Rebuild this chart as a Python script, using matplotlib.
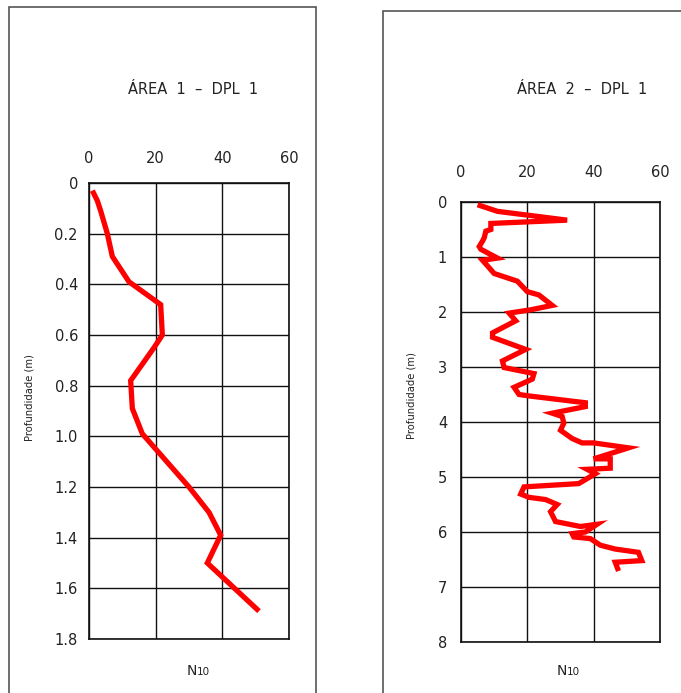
import matplotlib
matplotlib.use("Agg")
import matplotlib.pyplot as plt
from matplotlib.patches import Rectangle

# ---- data ----
area1_depth = [0.03, 0.07, 0.11, 0.20, 0.29, 0.39, 0.48, 0.60, 0.65, 0.78,
               0.89, 0.99, 1.20, 1.30, 1.39, 1.50, 1.69]
area1_n10 = [1, 2.5, 3.5, 5.5, 7, 12, 21.5, 22, 19.5, 12.5,
             13, 16, 30, 36, 39.5, 35.5, 51]

area2_depth = [0.05, 0.17, 0.33, 0.39, 0.50, 0.53, 0.65, 0.71, 0.81, 0.86,
               1.02, 1.06, 1.30, 1.44, 1.63, 1.69, 1.88, 1.96, 2.02, 2.16,
               2.38, 2.46, 2.68, 2.89, 3.01, 3.12, 3.22, 3.37, 3.50, 3.53,
               3.65, 3.72, 3.84, 3.90, 4.02, 4.15, 4.30, 4.38, 4.38, 4.47,
               4.67, 4.67, 4.84, 4.86, 4.94, 5.12, 5.18, 5.31, 5.37, 5.41,
               5.50, 5.63, 5.81, 5.90, 5.86, 6.00, 6.03, 6.09, 6.12, 6.24,
               6.31, 6.37, 6.52, 6.55, 6.71]
area2_n10 = [5, 11, 32, 9, 9, 7.5, 7, 6.5, 5.5, 6,
             11, 6.5, 10, 17, 20, 23.5, 27.5, 21, 14.5, 16.5,
             9.5, 9.5, 19.5, 12.5, 13, 22, 21.5, 16, 17.5, 21,
             37.5, 37.5, 27.5, 30.5, 31, 30, 33.5, 36.5, 40, 50.5,
             40, 45, 45, 38, 40.5, 35.5, 19, 18, 20.5, 25.5,
             29, 27, 28.5, 36, 41, 37.5, 33.5, 34, 39, 42,
             46.5, 53.5, 54.5, 46.5, 47.5]

area1_yticks = [0, 0.2, 0.4, 0.6, 0.8, 1.0, 1.2, 1.4, 1.6, 1.8]
area1_ylabels = ["0", "0.2", "0.4", "0.6", "0.8", "1.0", "1.2", "1.4", "1.6", "1.8"]
area2_yticks = [0, 1, 2, 3, 4, 5, 6, 7, 8]
n10_ticks = [0, 20, 40, 60]

titles = ["ÁREA  1  –  DPL  1", "ÁREA  2  –  DPL  1"]
ylabel = "Profundidade (m)"

W, H = 681, 693
fig = plt.figure(figsize=(W / 100, H / 100), dpi=100)
fig.patch.set_facecolor("white")


def fx(x):
    return x / W


def fy(y):
    return 1 - y / H


# panel frames
for (x0, y0, x1, y1) in [(9, 7, 316, 700), (383, 11, 700, 700)]:
    fig.patches.append(Rectangle((fx(x0), fy(y1)), fx(x1) - fx(x0), fy(y0) - fy(y1),
                                 transform=fig.transFigure, fill=False,
                                 edgecolor="#555555", linewidth=1.2))

font = "DejaVu Sans"
ink = "#222222"


def make_axes(rect_px, depth, n10, ymax, yticks, ylabels, xpad, ypad):
    x0, y0, x1, y1 = rect_px
    ax = fig.add_axes([fx(x0), fy(y1), fx(x1) - fx(x0), fy(y0) - fy(y1)])
    ax.plot(n10, depth, color="#ff0000", linewidth=3.8, solid_joinstyle="miter",
            solid_capstyle="butt", zorder=3)
    ax.set_xlim(0, 60)
    ax.set_ylim(ymax, 0)
    ax.set_xticks(n10_ticks)
    ax.set_yticks(yticks)
    ax.set_yticklabels(ylabels)
    ax.xaxis.tick_top()
    ax.tick_params(axis="both", length=0, labelsize=10.5, colors=ink)
    ax.tick_params(axis="x", pad=xpad)
    ax.tick_params(axis="y", pad=ypad)
    ax.grid(True, color="#111111", linewidth=1.0)
    ax.set_axisbelow(True)
    for s in ax.spines.values():
        s.set_color("#111111")
        s.set_linewidth(1.2)
    for lab in ax.get_xticklabels() + ax.get_yticklabels():
        lab.set_family(font)
    return ax


make_axes((89, 183, 289, 639), area1_depth, area1_n10, 1.8,
          area1_yticks, area1_ylabels, 12, 8)
make_axes((461, 202, 660, 642), area2_depth, area2_n10, 8,
          area2_yticks, [str(t) for t in area2_yticks], 16, 10)

# titles
fig.text(fx(193), fy(90), titles[0], ha="center", va="center", fontsize=10.5,
         family=font, color=ink)
fig.text(fx(582), fy(90), titles[1], ha="center", va="center", fontsize=10.5,
         family=font, color=ink)

# depth axis labels
fig.text(fx(30), fy(398), ylabel, rotation=90, ha="center", va="center",
         fontsize=7.2, family=font, color=ink)
fig.text(fx(411), fy(396), ylabel, rotation=90, ha="center", va="center",
         fontsize=7.2, family=font, color=ink)

# N10 axis labels
for xc, yb in [(196, 675), (566, 675)]:
    fig.text(fx(xc + 1), fy(yb), "N", ha="right", va="baseline", fontsize=10,
             family=font, color=ink)
    fig.text(fx(xc + 1), fy(yb), "10", ha="left", va="baseline", fontsize=7.5,
             family=font, color=ink)

fig.savefig("out.png", dpi=100, facecolor="white")
